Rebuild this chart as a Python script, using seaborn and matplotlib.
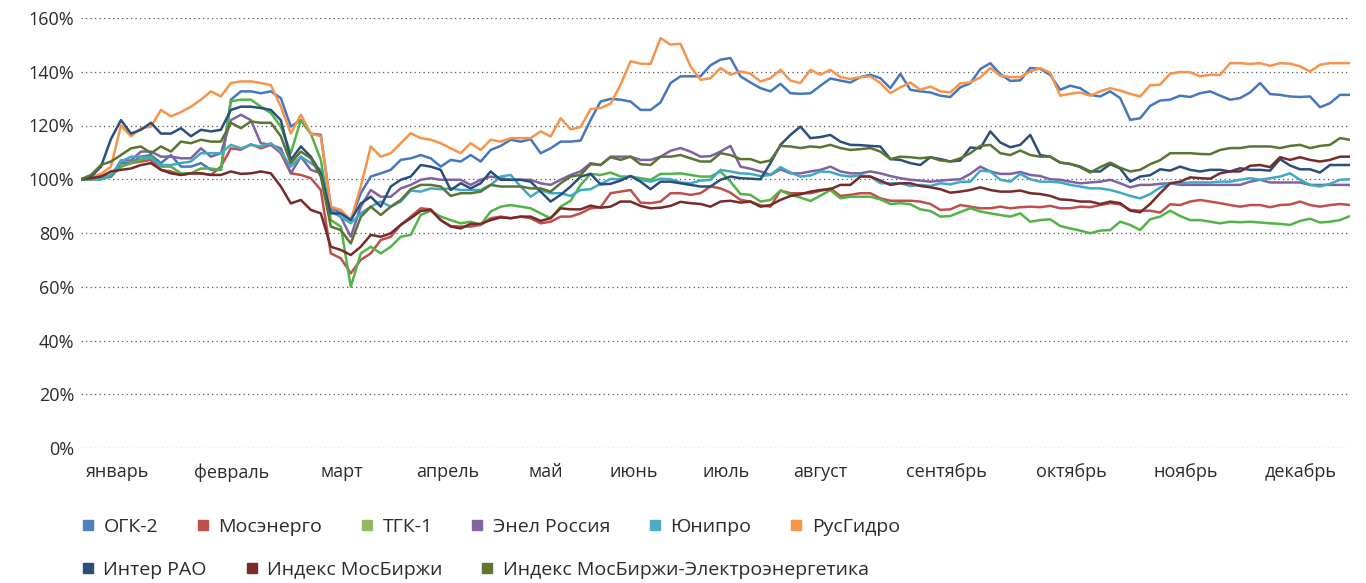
import numpy as np
import pandas as pd
import matplotlib
matplotlib.use('Agg')
import matplotlib.pyplot as plt
from matplotlib.lines import Line2D
import seaborn as sns

# --- данные (в % к началу года) ---
series_names = ['ОГК-2', 'Мосэнерго', 'ТГК-1', 'Энел Россия', 'Юнипро', 'РусГидро',
                'Интер РАО', 'Индекс МосБиржи', 'Индекс МосБиржи-Электроэнергетика']

ogk2 = [100, 100, 101, 101, 106, 106, 108.4, 109, 106, 109, 104.7, 104.7, 106, 103.5, 103.5, 129.6, 132.7,
        132.7, 132, 132.7, 130.2, 119.6, 122, 117, 116.5, 89.8, 87.3, 84.8, 94.8, 101, 102.2, 103.5, 107.2,
        107.8, 109, 107.8, 104.7, 107.2, 106.6, 109, 106.6, 110.9, 112.4, 114.7, 114, 114.9, 109.7, 111.5, 114,
        114, 114.4, 122.1, 128.9, 129.9, 129.6, 128.9, 125.8, 125.8, 128.6, 135.8, 138.3, 138.3, 138.3, 142.4, 144.5,
        145.1, 138.3, 136, 133.9, 132.7, 135.5, 132, 131.8, 132, 134.8, 137.5, 136.7, 136, 138, 138.9, 137.6,
        133.9, 139.2, 133.3, 132.7, 132.3, 131.1, 130.6, 134.2, 135.7, 141, 143.2, 139.1, 136.6, 136.8, 141.4, 141.1,
        138.8, 133.3, 134.8, 133.9, 131.4, 130.8, 132.7, 130.2, 122.1, 122.7, 127.3, 129.3, 129.6, 131.1, 130.6, 132,
        132.7, 131.1, 129.6, 130.2, 132.3, 135.8, 131.7, 131.4, 130.8, 130.6, 130.8, 126.8, 128.3, 131.4, 131.4]

mosenergo = [100, 100, 100, 101.6, 104.7, 106, 106.6, 107.2, 103.5, 102.9, 101.6, 102.2, 102.2, 101.6, 104.7, 111.5, 111,
             113, 111.5, 112.8, 109.7, 102.2, 101.6, 100.4, 96, 72.4, 70.6, 65, 70, 72.4, 77.4, 78.6, 83,
             86.1, 89.2, 88.8, 84.8, 82.6, 82.4, 82.4, 83, 85.5, 86.1, 85.5, 86.1, 85.5, 83.6, 84.2, 86.1,
             86.1, 87.3, 89.2, 89.6, 94.8, 95.4, 96, 91.3, 91.1, 91.7, 94.8, 94.8, 94.2, 94.8, 97.3, 96.6,
             95, 92.3, 91.7, 90.3, 89.8, 95.8, 94.8, 94.8, 94.8, 95.7, 96.6, 93.8, 94.2, 94.8, 94.8, 92.9,
             92, 92, 92, 91.7, 90.8, 88.6, 88.8, 90.4, 89.8, 89.2, 89.2, 89.8, 89.2, 89.6, 89.8, 89.6,
             90.1, 89.2, 89.2, 89.8, 89.6, 90.4, 91.1, 90.7, 88.6, 88.3, 88.3, 87.6, 90.7, 90.4, 91.7, 92.3,
             91.7, 91.1, 90.4, 89.8, 90.4, 90.4, 89.6, 90.4, 90.6, 91.7, 90.4, 89.8, 90.4, 90.8, 90.4]

tgk1 = [100, 100, 100, 101, 104.7, 106, 107.2, 108.4, 104.7, 104.7, 102.2, 102.2, 104, 104, 103.5, 129, 129.6,
        129.6, 127, 124.6, 119.6, 109.7, 122, 117, 107.2, 84.8, 82.4, 60, 72.4, 74.9, 72.4, 74.9, 78.6,
        79.3, 86.7, 88.3, 86.1, 84.8, 83.6, 84.2, 83, 88, 89.8, 90.4, 89.8, 89.2, 87.3, 85.5, 89.8,
        92, 97.9, 102, 101.6, 102.5, 101, 101, 100.4, 99.8, 102, 102, 102.2, 101.6, 101, 101, 102.9,
        99.1, 94.5, 94.2, 91.7, 92.3, 95.8, 94.2, 93.2, 91.9, 93.9, 96, 92.9, 93.5, 93.5, 93.5, 92.5,
        90.8, 91.1, 90.7, 88.8, 88.2, 86.1, 86.3, 87.8, 89.2, 88, 87.3, 86.7, 86.1, 87.3, 84.2, 84.8,
        85.1, 82.6, 81.7, 80.9, 79.9, 80.9, 81.1, 84.2, 83, 81.1, 85.1, 86.1, 88.3, 86.3, 84.8, 84.8,
        84.2, 83.6, 84.2, 84, 84.2, 83.9, 83.6, 83.4, 83, 84.5, 85.3, 83.9, 84.2, 84.8, 86.3]

enel = [100, 101, 101, 101, 107, 107, 110.3, 110.3, 108.4, 108.4, 107.8, 107.8, 111.5, 108.4, 109.7, 122, 124,
        122, 113.4, 112.8, 111.5, 102.2, 108.4, 103.5, 102.2, 88.6, 86, 78.6, 89.8, 96, 93.5, 93.5, 96.6,
        97.9, 99.8, 100.4, 99.8, 99.8, 99.8, 97.9, 99.8, 101, 100.4, 99.8, 99.8, 99.8, 98.5, 97.9, 99.8,
        101.6, 102.9, 106, 105.3, 108.4, 108.4, 108.4, 107.2, 107.2, 108.4, 110.6, 111.6, 110.3, 108.4, 108.6, 110.3,
        112.4, 104.7, 103.9, 102.9, 101.6, 103.7, 102.2, 102.2, 102.9, 103.5, 104.7, 102.9, 102.2, 102.2, 102.9, 102.2,
        101.2, 100.4, 99.8, 99.5, 99.1, 99.5, 99.8, 100, 102, 104.7, 102.9, 102, 102, 102.7, 101.6, 101.2,
        100, 99.8, 99.1, 98.5, 98.8, 99.1, 99.8, 98.5, 97, 97.9, 97.9, 98.3, 98.5, 97.9, 97.9, 97.9,
        97.9, 97.9, 97.9, 97.9, 99.1, 99.8, 98.8, 98.8, 98.8, 98.8, 97.9, 97.9, 97.9, 97.9, 97.9]

unipro = [100, 100, 100, 101.6, 106.6, 108.4, 108.4, 107.8, 105.3, 105.3, 106, 106.6, 109.7, 109.7, 109.7, 112.8, 111.5,
          112.8, 112.2, 113.4, 110.3, 104.7, 108.4, 106, 103.5, 88, 86, 83.6, 87.3, 89.8, 91.7, 89.8, 91.7,
          95.8, 95.4, 96.6, 96.3, 96.6, 96, 96, 96, 97.9, 101, 101.6, 97.3, 93.5, 96, 94.8, 94.8,
          93.8, 96, 96.3, 98.3, 100.1, 100, 101.2, 99.8, 99.1, 100.2, 100, 98.8, 98.5, 99.5, 99.8, 103.5,
          102.9, 102.2, 102, 101.2, 101.6, 104.5, 102.5, 101, 101.4, 102.9, 102.7, 101.5, 101, 101.5, 101, 98.5,
          98.5, 98.5, 97.5, 97.9, 97.5, 98.5, 98.1, 99, 99.1, 103.2, 102.9, 99.8, 99.1, 102, 100, 99.1,
          99.1, 98.8, 97.9, 97.3, 96.6, 96.6, 96, 95, 93.8, 92.9, 94.5, 96.9, 98.5, 98.5, 98.8, 98.8,
          98.8, 99.1, 99.1, 99.8, 100.4, 99.8, 100.4, 101, 102.2, 99.8, 97.9, 97.3, 98.3, 99.8, 100]

rushydro = [100, 101, 102, 104.7, 120, 116, 119, 119.6, 125.8, 123.4, 125, 127, 129.6, 132.7, 130.8, 135.8, 136.4,
            136.4, 135.8, 135, 127, 117, 124, 117, 116, 89.8, 88.6, 84.8, 97.3, 112.2, 108.4, 109.7, 113.4,
            117.1, 115.3, 114.7, 113.4, 111.5, 109.7, 113.4, 110.9, 114.7, 114, 115.3, 115.3, 115.3, 117.8, 115.9, 122.7,
            118.6, 119.4, 126.1, 126.5, 128.1, 135.2, 143.9, 143, 142.9, 152.5, 150.1, 150.4, 142, 137, 137.6, 141.4,
            138.9, 140.1, 139.3, 136.4, 137.6, 140.7, 136.7, 135.8, 140.7, 138.9, 140.7, 138, 137.3, 138, 138.3, 135.8,
            132, 134.2, 136, 133.3, 134.5, 132.7, 132.3, 135.7, 136, 137.9, 141.4, 138.5, 138, 138, 140.1, 141.4,
            139.6, 131.1, 131.8, 132.3, 131.1, 132.7, 133.9, 133, 131.8, 130.8, 135, 135.2, 139.3, 139.9, 139.8, 138.3,
            138.9, 138.8, 143.2, 143.2, 142.9, 143.2, 142.2, 143.2, 143, 142, 140.1, 142.6, 143.2, 143.2, 143.2]

interrao = [100, 101, 104.7, 115, 122, 117, 118.4, 121, 117, 117, 119, 116, 118.4, 117.8, 118.4, 125.8, 127,
            127, 126.5, 125.8, 122, 107.2, 112.2, 108.4, 102.2, 87.3, 87.3, 84.8, 91, 93.5, 89.8, 97.3, 99.8,
            101, 105.3, 104.7, 103.5, 96, 98.5, 96.6, 98.5, 102.9, 99.8, 99.8, 99.8, 99.1, 95.4, 91.7, 94.2,
            97.3, 101, 102, 98.1, 98.3, 99.5, 101.2, 99.1, 96.3, 99.1, 99.1, 98.5, 97.9, 97.3, 97.3, 99.8,
            101, 100.4, 100.2, 100, 106, 112.8, 116.5, 119.6, 115.3, 115.7, 116.5, 114, 112.8, 112.7, 112.4, 112.2,
            107.5, 107.2, 106, 105.3, 108.2, 107.5, 106.6, 107, 111.8, 111.5, 117.8, 113.7, 111.9, 112.8, 116.5, 109,
            108.4, 106.2, 105.7, 104.7, 102.9, 102.9, 105.6, 104, 99.1, 101, 101.5, 103.7, 103.2, 104.7, 103.5, 102.9,
            103.5, 103.5, 102.9, 104.1, 103.5, 103.5, 103.2, 107.5, 105.1, 103.7, 103.7, 102.5, 105.3, 105.3, 105.3]

moex = [100, 100.4, 101, 102.9, 103.5, 104, 105.3, 106, 103.5, 102.2, 101.6, 102.2, 102.2, 101.6, 101.6, 102.9, 102,
        102.2, 102.9, 102.2, 97.3, 91, 92.3, 88.6, 87.3, 74.9, 73.7, 71.8, 74.9, 79.3, 78.6, 79.9, 83,
        85.5, 88.2, 88.6, 84.8, 82.4, 81.7, 83.4, 83.4, 84.8, 85.8, 85.5, 86.1, 86.1, 84.5, 85.5, 89.2,
        88.8, 88.8, 90.2, 89.4, 89.8, 91.7, 91.7, 90.1, 89.2, 89.4, 90.1, 91.6, 91.1, 90.8, 89.8, 91.7,
        92, 91.3, 91.7, 89.8, 90.4, 92.3, 93.8, 94.4, 95.4, 96, 96.3, 97.9, 97.9, 101, 101, 99.5,
        97.9, 98.5, 98.5, 97.5, 97, 96.3, 95, 95.4, 96, 97, 96, 95.4, 95.4, 95.8, 94.8, 94.5,
        93.8, 92.5, 92.3, 91.7, 91.7, 90.8, 91.7, 91.1, 88.3, 87.7, 90.8, 94.8, 98.5, 99.1, 100.7, 100.4,
        100.2, 102.2, 102.9, 102.9, 105, 105.3, 104.5, 108.2, 107.2, 108.2, 107.2, 106.6, 107.2, 108.4, 108.4]

moex_power = [100, 101.6, 105.3, 106.6, 109, 111.5, 112.2, 109.7, 112.2, 110.3, 114, 113.4, 114.7, 114, 114, 121, 119,
              121.5, 121, 121, 116, 106, 110.3, 107.8, 101, 82.4, 81.1, 76.1, 86, 89.8, 86.7, 89.8, 92.3,
              96.3, 97.9, 97.9, 97.3, 93.8, 94.8, 94.8, 95.4, 97.9, 97.3, 97.3, 97.3, 96.6, 96.6, 95.4, 98.5,
              101, 101.6, 105.6, 105.3, 108.2, 107.2, 108.4, 105.6, 105.3, 108.4, 108.4, 109, 107.8, 106.6, 106.6, 109.7,
              109, 107.5, 107.5, 106.2, 107, 112.4, 112.2, 111.6, 112.2, 111.9, 112.8, 111.6, 110.9, 111.2, 111.6, 110.3,
              107.5, 108.4, 108.2, 107.8, 108.2, 107, 106.6, 107.8, 109.7, 112.4, 112.8, 109.7, 109, 110.7, 109, 108.4,
              108.4, 106.2, 105.7, 104.5, 102.5, 104.5, 106.2, 104.3, 102.9, 103.5, 105.6, 107.1, 109.7, 109.7, 109.7, 109.4,
              109.3, 110.9, 111.6, 111.6, 112.2, 112.2, 112.2, 111.6, 112.4, 112.8, 111.6, 112.4, 112.8, 115.3, 114.7]

months = ['январь', 'февраль', 'март', 'апрель', 'май', 'июнь',
          'июль', 'август', 'сентябрь', 'октябрь', 'ноябрь', 'декабрь']
# номер точки, под которой стоит подпись месяца
month_pos = [3.6, 15.1, 26.1, 36.7, 46.5, 55.3, 64.6, 74.0, 86.6, 99.1, 110.6, 122.1]

line_colors = ['#4677BE', '#BF4F4C', '#52B446', '#7F62A4', '#40A9C4', '#F7934A',
               '#2A4F7C', '#762A29', '#5A7432']
legend_colors = ['#4F81BD', '#C0504D', '#8FBB5C', '#8064A2', '#4BACC6', '#F79646',
                 '#2C4D75', '#772C2A', '#5F7530']

all_values = [ogk2, mosenergo, tgk1, enel, unipro, rushydro, interrao, moex, moex_power]

# длинная таблица для seaborn
frames = []
for name, vals in zip(series_names, all_values):
    frames.append(pd.DataFrame({'точка': np.arange(len(vals)), 'значение': vals, 'серия': name}))
df = pd.concat(frames, ignore_index=True)

sns.set_style('white')
plt.rcParams['font.family'] = ['Open Sans', 'DejaVu Sans']
text_color = '#2b2b2b'

fig = plt.figure(figsize=(13.66, 5.83), dpi=100)
ax = fig.add_axes([81 / 1366, 1 - 448 / 583, (1350 - 81) / 1366, (448 - 18) / 583])

sns.lineplot(data=df, x='точка', y='значение', hue='серия', hue_order=series_names,
             palette=dict(zip(series_names, line_colors)), linewidth=1.8,
             legend=False, ax=ax)

ax.set_xlim(0, len(ogk2) - 1)
ax.set_ylim(0, 160)
ax.set_xlabel('')
ax.set_ylabel('')

ax.set_yticks(range(0, 161, 20))
ax.set_yticklabels([f'{v}%' for v in range(0, 161, 20)])
ax.set_xticks(month_pos)
ax.set_xticklabels(months)
ax.tick_params(axis='both', length=0, labelsize=13, colors=text_color)
ax.tick_params(axis='y', pad=5)
ax.tick_params(axis='x', pad=11)

ax.yaxis.grid(True, linestyle=(0, (1, 2.6)), color='#555555', linewidth=0.9)
ax.xaxis.grid(False)
ax.set_axisbelow(True)
sns.despine(ax=ax, left=True, bottom=True)

# легенда в две строки, как в исходнике
handles = [Line2D([], [], marker='s', linestyle='none', markersize=7.5,
                  markerfacecolor=c, markeredgecolor=c) for c in legend_colors]
leg_kw = dict(frameon=False, fontsize=14, handlelength=0.7, handletextpad=0.45,
              columnspacing=1.95, borderpad=0, borderaxespad=0, labelcolor=text_color)
leg1 = fig.legend(handles[:6], series_names[:6], ncol=6, loc='center left',
                  bbox_to_anchor=(81 / 1366, 1 - 527 / 583), **leg_kw)
leg2 = fig.legend(handles[6:], series_names[6:], ncol=3, loc='center left',
                  bbox_to_anchor=(81 / 1366, 1 - 570 / 583), **leg_kw)

fig.savefig('out.png', dpi=100)
